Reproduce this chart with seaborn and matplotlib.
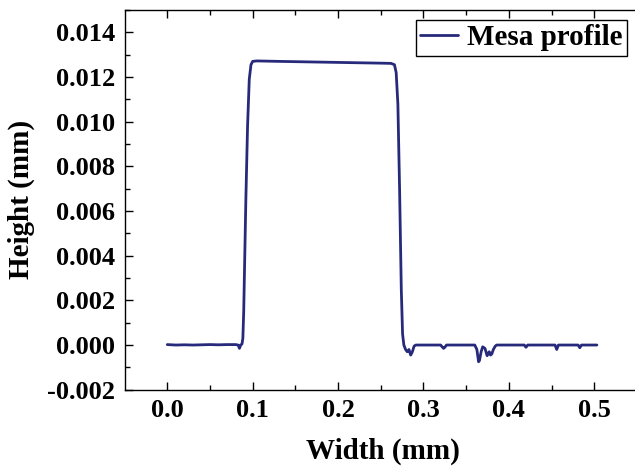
import numpy as np
import pandas as pd
import matplotlib
matplotlib.use("Agg")
import matplotlib.pyplot as plt
from matplotlib.ticker import MultipleLocator
import seaborn as sns

# profile (mm)
width = [0.000, 0.010, 0.020, 0.030, 0.040, 0.050, 0.060, 0.070, 0.080, 0.083,
         0.0845, 0.086, 0.0875, 0.0885, 0.0895, 0.0905, 0.092, 0.094, 0.096,
         0.098, 0.100, 0.105, 0.130, 0.160, 0.190, 0.220, 0.250, 0.262, 0.266,
         0.268, 0.270, 0.272, 0.274, 0.2755, 0.277, 0.279, 0.281, 0.283, 0.285,
         0.287, 0.289, 0.291, 0.300, 0.320, 0.3235, 0.325, 0.327, 0.340, 0.360,
         0.3625, 0.3645, 0.3655, 0.3675, 0.3693, 0.372, 0.3745, 0.377, 0.3785,
         0.380, 0.3818, 0.384, 0.3857, 0.400, 0.418, 0.420, 0.422, 0.440, 0.454,
         0.456, 0.458, 0.470, 0.481, 0.483, 0.485, 0.490, 0.503]
height = [0.00002, 0.00000, 0.00001, 0.00000, 0.00001, 0.00002, 0.00001, 0.00002,
          0.00002, 0.00000, -0.00015, 0.00000, 0.00005, 0.00030, 0.00150, 0.00350,
          0.00650, 0.00980, 0.01190, 0.01255, 0.01270, 0.01272, 0.01270, 0.01268,
          0.01266, 0.01264, 0.01262, 0.01261, 0.01255, 0.01220, 0.01080, 0.00700,
          0.00250, 0.00050, 0.00000, -0.00020, -0.00030, -0.00020, -0.00045,
          -0.00030, -0.00005, 0.00000, 0.00000, 0.00000, -0.00015, -0.00010,
          0.00000, 0.00000, 0.00000, -0.00020, -0.00075, -0.00070, -0.00030,
          -0.00008, -0.00015, -0.00048, -0.00030, -0.00045, -0.00040, -0.00020,
          -0.00005, 0.00000, 0.00000, 0.00000, -0.00010, 0.00000, 0.00000, 0.00000,
          -0.00020, 0.00000, 0.00000, 0.00000, -0.00012, 0.00000, 0.00000, 0.00000]

df = pd.DataFrame({"Width": width, "Height": height})

sns.set_theme(style="ticks")
plt.rcParams['font.family'] = ['Liberation Serif', 'DejaVu Serif']
plt.rcParams['font.weight'] = 'bold'
plt.rcParams['text.color'] = 'black'
plt.rcParams['axes.labelcolor'] = 'black'

fig = plt.figure(figsize=(6.35, 4.71), dpi=100)
# right spine sits just past the image edge, as in the reference crop
ax = fig.add_axes([125 / 635, 81.3 / 471, 515 / 635, 379.7 / 471])

sns.lineplot(data=df, x="Width", y="Height", ax=ax, color="#272a7a",
             linewidth=2.0, label="Mesa profile", sort=False, estimator=None)

ax.set_xlim(-0.0495, 0.5535)
ax.set_ylim(-0.002, 0.015)
ax.xaxis.set_minor_locator(MultipleLocator(0.05))
ax.yaxis.set_minor_locator(MultipleLocator(0.001))
ax.set_xticks([0.0, 0.1, 0.2, 0.3, 0.4, 0.5])
ax.set_xticklabels(["0.0", "0.1", "0.2", "0.3", "0.4", "0.5"])
yt = [-0.002, 0.0, 0.002, 0.004, 0.006, 0.008, 0.010, 0.012, 0.014]
ax.set_yticks(yt)
ax.set_yticklabels(["%.3f" % v for v in yt])

ax.tick_params(which="both", direction="in", top=True, right=False,
               colors="black", width=1.0, labelsize=19)
ax.tick_params(which="major", length=6, pad=7)
ax.tick_params(which="minor", length=3.5)
for s in ax.spines.values():
    s.set_color("black")
    s.set_linewidth(1.0)

ax.set_xlabel("Width (mm)", fontsize=21, fontweight="bold", labelpad=11)
ax.set_ylabel("Height (mm)", fontsize=21, fontweight="bold", labelpad=9)

leg = ax.legend(loc="upper right", bbox_to_anchor=(627 / 635, 1 - 20 / 471),
                bbox_transform=fig.transFigure, borderaxespad=0,
                fancybox=False, framealpha=1, edgecolor="black",
                prop={"size": 21, "weight": "bold"}, handlelength=1.3,
                handletextpad=0.3, borderpad=0.15)
leg.get_frame().set_linewidth(1.0)
for t in leg.get_texts():
    t.set_color("black")

fig.savefig("out.png", dpi=100)
